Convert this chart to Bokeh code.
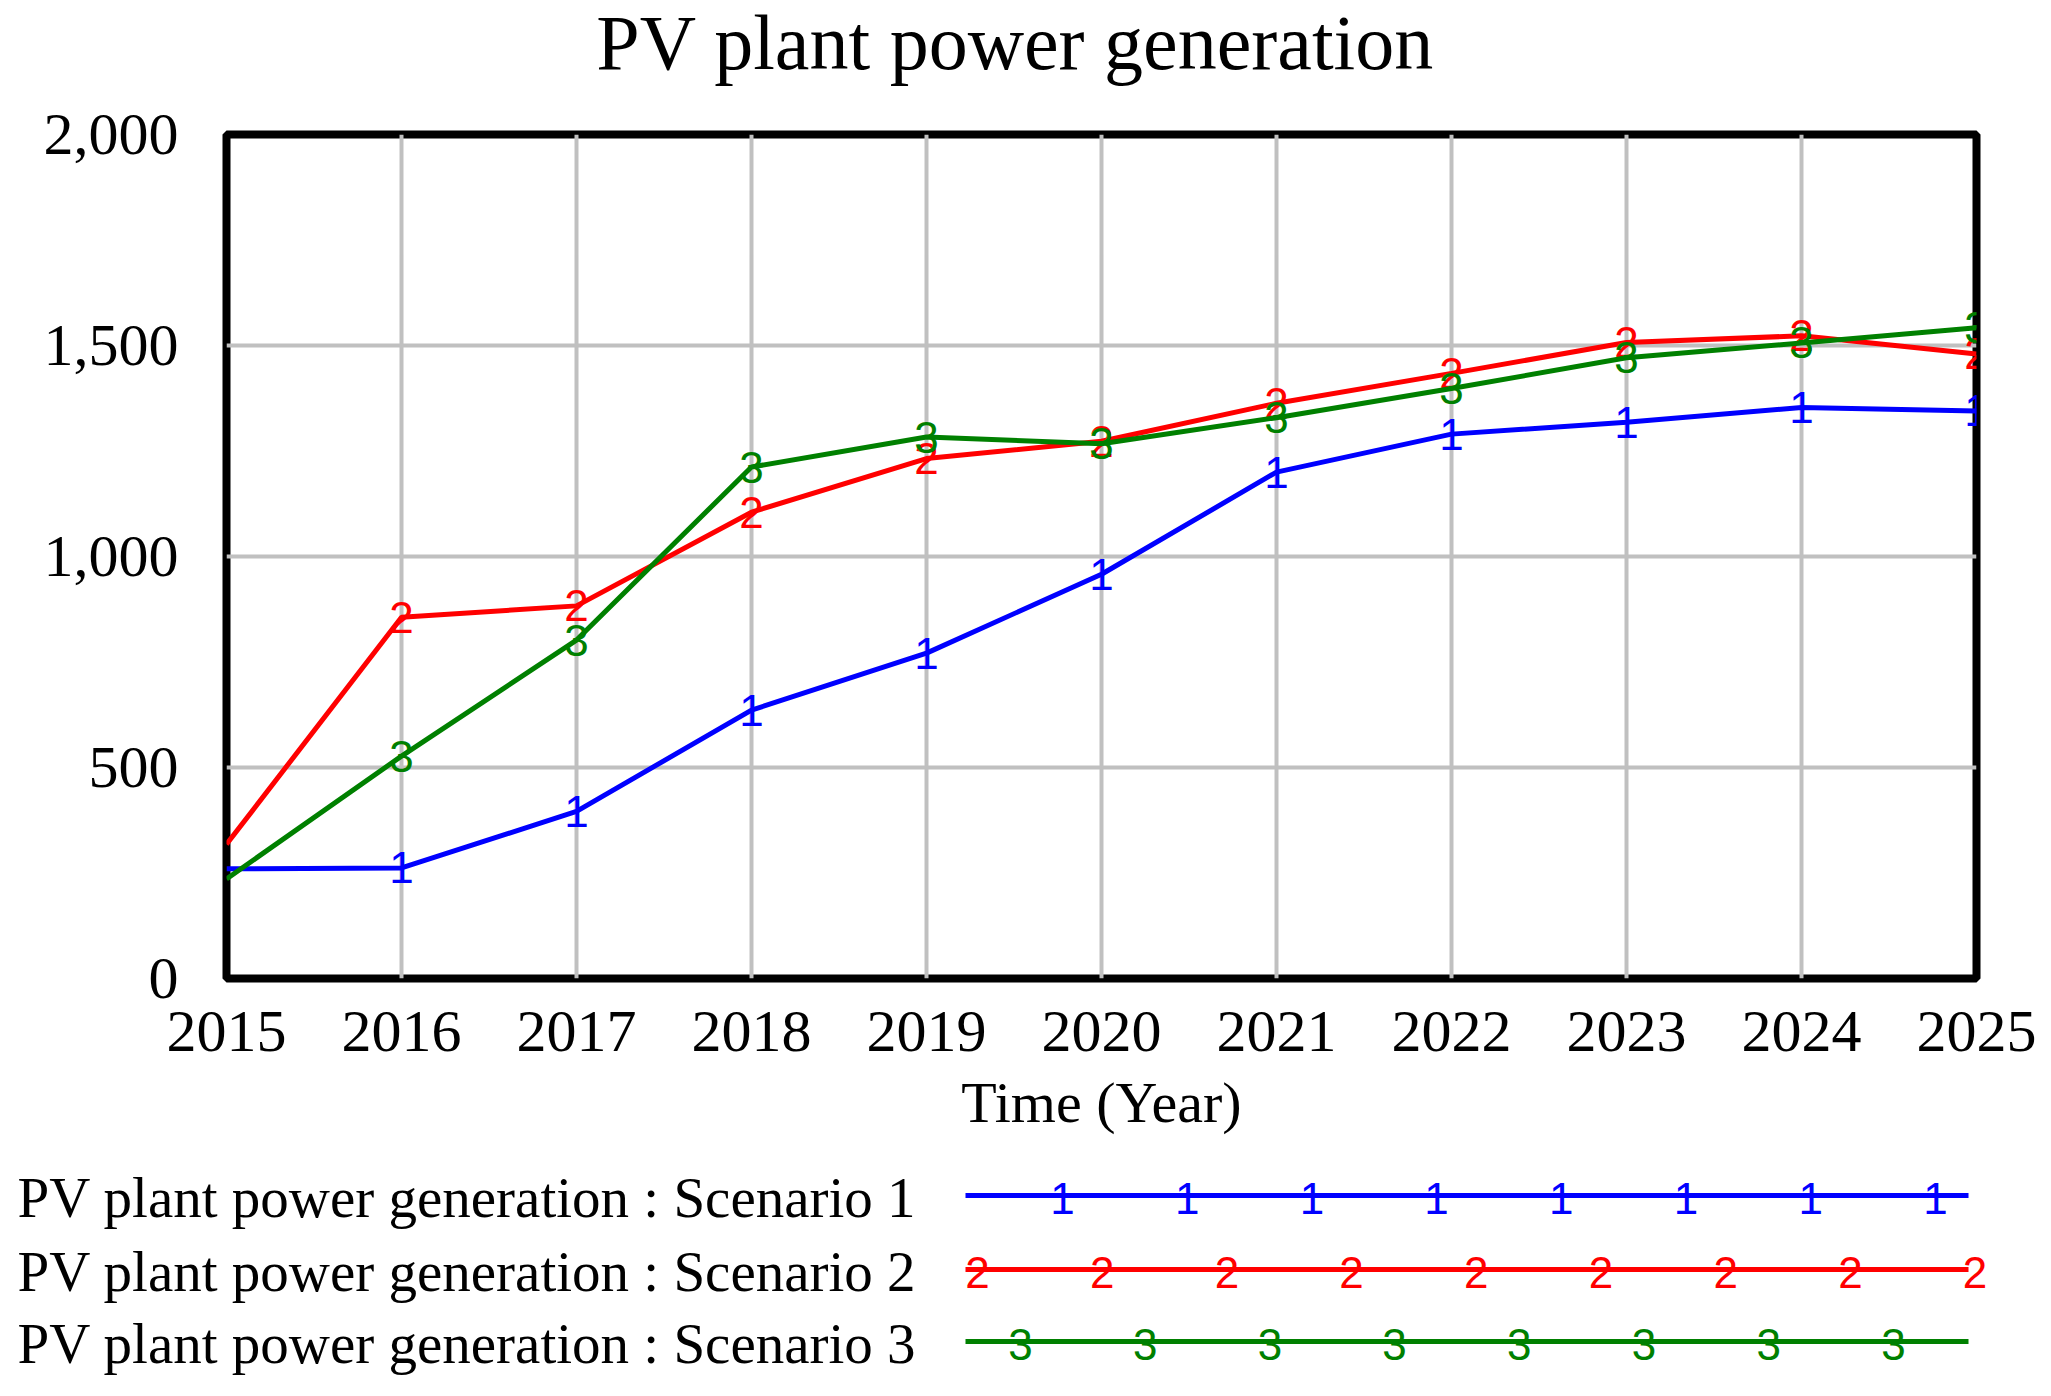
from bokeh.plotting import figure
from bokeh.models import Range1d, FixedTicker, NumeralTickFormatter
from bokeh.core.properties import value
from bokeh.embed import file_html
from bokeh.resources import INLINE

# ---- data ----
years = [2015, 2016, 2017, 2018, 2019, 2020, 2021, 2022, 2023, 2024, 2025]
scenario1 = [260, 262, 396, 636, 771, 958, 1200, 1290, 1318, 1353, 1345]
scenario2 = [318, 856, 883, 1105, 1232, 1273, 1363, 1434, 1507, 1523, 1480]
scenario3 = [236, 527, 802, 1212, 1283, 1267, 1329, 1398, 1471, 1506, 1542]
series_names = ["PV plant power generation : Scenario 1",
                "PV plant power generation : Scenario 2",
                "PV plant power generation : Scenario 3"]
series_marks = ["1", "2", "3"]
series_colors = ["#0000FF", "#FF0000", "#008000"]
y_ticks = [0, 500, 1000, 1500, 2000]

title_text = "PV plant power generation"
x_title = "Time (Year)"

SERIF = "Liberation Serif"
SANS = "Liberation Sans"
W = 2051
BL, BT = 226, 42
FW, FH = 1750, 844
BR = W - BL - FW
TH = 92             # title strip height
MH = 1058           # chart height
LH = 246            # legend strip height


def blank_strip(h):
    f = figure(frame_width=W, frame_height=h, output_backend="svg", toolbar_location=None,
               x_range=Range1d(0, W), y_range=Range1d(h, 0),
               min_border=0, min_border_left=0, min_border_right=0,
               min_border_top=0, min_border_bottom=0)
    f.axis.visible = False
    f.grid.visible = False
    f.outline_line_color = None
    f.background_fill_color = "white"
    f.border_fill_color = "white"
    return f


# ---- title strip ----
tf = blank_strip(TH)
tf.text(x=[1015], y=[42], text=[title_text], text_color="black",
        text_font=value(SERIF), text_font_size="78px",
        text_align="center", text_baseline="middle")

# ---- chart ----
p = figure(frame_width=FW, frame_height=FH, output_backend="svg", toolbar_location=None,
           x_range=Range1d(2015, 2025), y_range=Range1d(0, 2000),
           min_border_left=BL, min_border_right=BR, min_border_top=BT,
           min_border_bottom=MH - BT - FH)

p.outline_line_color = "black"
p.outline_line_width = 8
p.background_fill_color = "white"
p.border_fill_color = "white"

for ax in (p.xaxis[0], p.yaxis[0]):
    ax.axis_line_color = None
    ax.major_tick_line_color = None
    ax.minor_tick_line_color = None
    ax.major_label_text_font = SERIF
    ax.major_label_text_font_size = "60px"
    ax.major_label_text_color = "black"

p.xaxis.ticker = FixedTicker(ticks=years)
p.xaxis.major_label_standoff = 27
p.xaxis.axis_label = x_title
p.xaxis.axis_label_text_font = SERIF
p.xaxis.axis_label_text_font_size = "58px"
p.xaxis.axis_label_text_font_style = "normal"
p.xaxis.axis_label_text_color = "black"
p.xaxis.axis_label_standoff = 16

p.yaxis.ticker = FixedTicker(ticks=y_ticks)
p.yaxis.formatter = NumeralTickFormatter(format="0,0")
p.yaxis.major_label_standoff = 42

p.xgrid.ticker = FixedTicker(ticks=years)
p.ygrid.ticker = FixedTicker(ticks=y_ticks)
for g in (p.xgrid[0], p.ygrid[0]):
    g.grid_line_color = "#C0C0C0"
    g.grid_line_width = 4

all_series = [scenario1, scenario2, scenario3]
for vals, mark, col in zip(all_series, series_marks, series_colors):
    p.line(years, vals, line_color=col, line_width=5)
    p.text(x=years[1:], y=vals[1:], text=[mark] * (len(years) - 1),
           text_color=col, text_font=value(SANS), text_font_size="44px",
           text_align="center", text_baseline="middle")

# ---- legend strip ----
lg = blank_strip(LH)
row_y = [45, 119, 191]
line_x0, line_x1 = 965, 1968
mark_start = [1062, 977, 1020]
mark_count = [8, 9, 8]
mark_step = 124.7

for i in range(3):
    lg.text(x=[17], y=[row_y[i] + 2], text=[series_names[i]], text_color="black",
            text_font=value(SERIF), text_font_size="57px",
            text_align="left", text_baseline="middle")
    lg.line([line_x0, line_x1], [row_y[i], row_y[i]], line_color=series_colors[i],
            line_width=5)
    xs = [mark_start[i] + k * mark_step for k in range(mark_count[i])]
    lg.text(x=xs, y=[row_y[i] + 3] * len(xs), text=[series_marks[i]] * len(xs),
            text_color=series_colors[i], text_font=value(SANS), text_font_size="44px",
            text_align="center", text_baseline="middle")

open("out.html", "w").write(file_html([tf, p, lg], INLINE))
